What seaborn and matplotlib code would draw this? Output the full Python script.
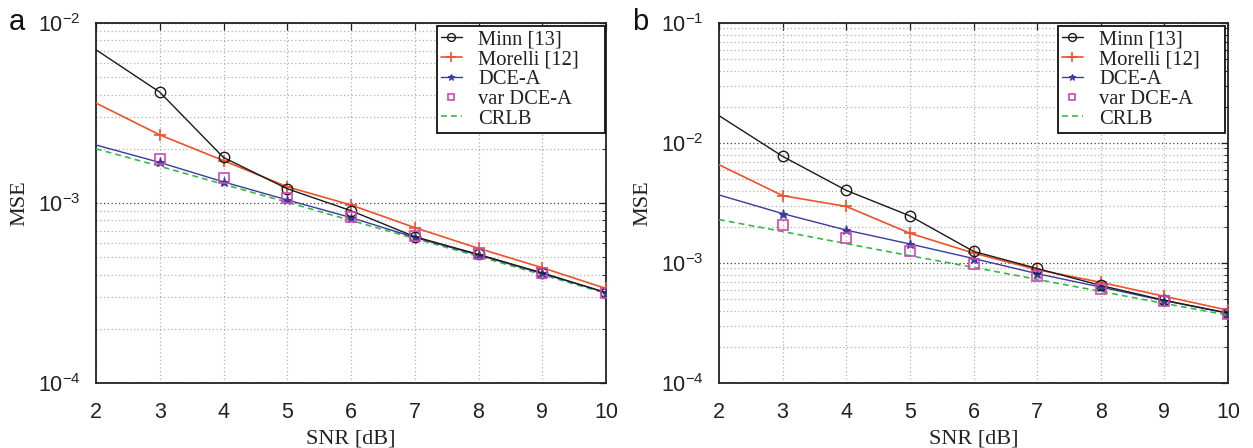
import numpy as np
import pandas as pd
import matplotlib
matplotlib.use("Agg")
import matplotlib.pyplot as plt
import seaborn as sns
from matplotlib.ticker import LogLocator, NullFormatter

# ---------------- data ----------------
snr = [2, 3, 4, 5, 6, 7, 8, 9, 10]
snr_var = [3, 4, 5, 6, 7, 8, 9, 10]

# panel a
a_minn = [7.1e-3, 4.13e-3, 1.79e-3, 1.20e-3, 9.06e-4, 6.5e-4, 5.18e-4, 4.09e-4, 3.18e-4]
a_morelli = [3.59e-3, 2.39e-3, 1.72e-3, 1.23e-3, 9.75e-4, 7.3e-4, 5.6e-4, 4.37e-4, 3.35e-4]
a_dce = [2.10e-3, 1.68e-3, 1.31e-3, 1.04e-3, 8.3e-4, 6.44e-4, 5.14e-4, 4.06e-4, 3.18e-4]
a_var = [1.76e-3, 1.37e-3, 1.07e-3, 8.4e-4, 6.55e-4, 5.18e-4, 4.09e-4, 3.18e-4]
a_crlb = [2.0e-3, 1.60e-3, 1.27e-3, 1.01e-3, 8.0e-4, 6.35e-4, 5.05e-4, 4.0e-4, 3.15e-4]

# panel b
b_minn = [1.69e-2, 7.74e-3, 4.03e-3, 2.47e-3, 1.25e-3, 9.0e-4, 6.5e-4, 4.89e-4, 3.83e-4]
b_morelli = [6.59e-3, 3.64e-3, 2.96e-3, 1.77e-3, 1.21e-3, 8.8e-4, 6.9e-4, 5.28e-4, 4.04e-4]
b_dce = [3.69e-3, 2.58e-3, 1.88e-3, 1.44e-3, 1.09e-3, 8.15e-4, 6.3e-4, 4.85e-4, 3.81e-4]
b_var = [2.08e-3, 1.62e-3, 1.26e-3, 9.87e-4, 7.74e-4, 6.07e-4, 4.8e-4, 3.79e-4]
b_crlb = [2.3e-3, 1.83e-3, 1.45e-3, 1.15e-3, 9.2e-4, 7.3e-4, 5.8e-4, 4.6e-4, 3.68e-4]

labels = ["Minn [13]", "Morelli [12]", "DCE-A", "var DCE-A", "CRLB"]
xticks = [2, 3, 4, 5, 6, 7, 8, 9, 10]
panel_letters = ["a", "b"]
ylims = [(1e-4, 1e-2), (1e-4, 1e-1)]

# ---------------- style ----------------
sns.set_theme(style="white")
plt.rcParams["font.family"] = ["Liberation Sans", "DejaVu Sans"]
plt.rcParams["mathtext.fontset"] = "custom"
plt.rcParams["mathtext.rm"] = "Liberation Sans"
plt.rcParams["mathtext.it"] = "Liberation Sans:italic"
plt.rcParams["mathtext.bf"] = "Liberation Sans:bold"

C_MINN = "#1a1a1a"
C_MOR = "#f0502a"
C_DCE = "#3a3aa0"
C_VAR = "#d048b0"
C_CRLB = "#38b848"

fig = plt.figure(figsize=(12.53, 4.48), dpi=100)
positions = [[96 / 1253, 1 - 383 / 448, 510 / 1253, 360 / 448],
             [719 / 1253, 1 - 383 / 448, 509 / 1253, 360 / 448]]
legend_boxes = [(0.6686, 0.0, 0.3294, 0.9917),
                (0.6660, 0.0, 0.3280, 0.9917)]

datasets = [(a_minn, a_morelli, a_dce, a_var, a_crlb),
            (b_minn, b_morelli, b_dce, b_var, b_crlb)]

serif = ["Liberation Serif", "DejaVu Serif"]

for i, (pos, data) in enumerate(zip(positions, datasets)):
    ax = fig.add_axes(pos)
    minn, mor, dce, var, crlb = data
    mk = list(range(1, len(snr)))
    sns.lineplot(x=snr, y=minn, ax=ax, color=C_MINN, lw=1.0, marker="o",
                 markersize=7.5, markerfacecolor="none", markeredgecolor=C_MINN,
                 markeredgewidth=1.0, markevery=mk, label=labels[0], zorder=5)
    sns.lineplot(x=snr, y=mor, ax=ax, color=C_MOR, lw=1.2, marker="+",
                 markersize=9, markeredgewidth=1.2, markeredgecolor=C_MOR,
                 markevery=mk, label=labels[1], zorder=4)
    sns.lineplot(x=snr, y=dce, ax=ax, color=C_DCE, lw=1.0, marker="*",
                 markersize=6.5, markeredgewidth=0.8, markeredgecolor=C_DCE,
                 markerfacecolor=C_DCE, markevery=mk, label=labels[2], zorder=4)
    sns.lineplot(x=snr_var, y=var, ax=ax, color=C_VAR, linestyle="none",
                 marker="s", markersize=6.5, markerfacecolor="none",
                 markeredgecolor=C_VAR, markeredgewidth=1.2,
                 label=labels[3], zorder=6)
    sns.lineplot(x=snr, y=crlb, ax=ax, color=C_CRLB, lw=1.2,
                 linestyle=(0, (3.5, 2.5)), label=labels[4], zorder=3)

    ax.set_yscale("log")
    ax.set_xlim(2, 10)
    ax.set_ylim(*ylims[i])
    ax.set_xticks(xticks)
    ax.set_xticklabels([str(t) for t in xticks])
    ax.yaxis.set_major_locator(LogLocator(base=10, numticks=10))
    ax.yaxis.set_minor_locator(LogLocator(base=10, subs=np.arange(2, 10), numticks=100))
    ax.yaxis.set_minor_formatter(NullFormatter())

    ax.grid(True, which="major", axis="x", color="#b0b0b0", linestyle=(0, (1, 2)), lw=0.9)
    ax.grid(True, which="major", axis="y", color="#404040", linestyle=(0, (1, 2)), lw=0.9)
    ax.grid(True, which="minor", axis="y", color="#b0b0b0", linestyle=(0, (1, 2)), lw=0.9)
    ax.set_axisbelow(True)

    ax.tick_params(which="both", direction="in", top=True, right=True,
                   labelsize=15.5, colors="#222222")
    ax.tick_params(axis="x", pad=14)
    ax.tick_params(axis="y", pad=11)
    ax.tick_params(which="major", length=5, width=0.9, color="#222222")
    ax.tick_params(which="minor", length=3, width=0.7, color="#222222")
    for sp in ax.spines.values():
        sp.set_color("#222222")
        sp.set_linewidth(1.3)

    ax.set_xlabel("SNR [dB]", fontfamily=serif, fontsize=16, color="#222222", labelpad=4)
    ax.set_ylabel("MSE", fontfamily=serif, fontsize=16, color="#222222", labelpad=6)

    leg = ax.legend(loc="upper left", bbox_to_anchor=legend_boxes[i], mode="expand",
                    frameon=True, fancybox=False, markerscale=0.75,
                    framealpha=1, edgecolor="#111111", borderaxespad=0.0,
                    prop={"family": serif, "size": 14.8}, handlelength=1.0,
                    handletextpad=0.8, labelspacing=0.02, borderpad=0.2)
    leg.get_frame().set_linewidth(1.3)
    for t in leg.get_texts():
        t.set_color("#222222")

    fig.text(pos[0] - 87 / 1253, 0.95, panel_letters[i], fontsize=21,
             ha="left", va="center", color="#111111")

fig.savefig("out.png", dpi=100)
